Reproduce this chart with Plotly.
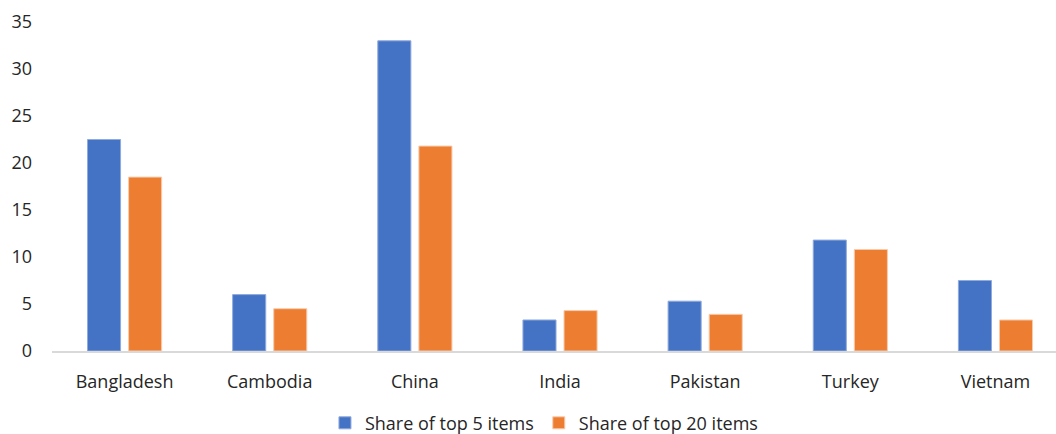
import plotly.graph_objects as go

countries = ["Bangladesh", "Cambodia", "China", "India", "Pakistan", "Turkey", "Vietnam"]
top5_share = [22.5, 6.0, 33.0, 3.3, 5.3, 11.8, 7.5]
top20_share = [18.5, 4.5, 21.8, 4.3, 3.9, 10.8, 3.3]

BLUE = "#4472C4"
ORANGE = "#ED7D31"
FONT = "Open Sans"
TEXT = "#262626"

fig = go.Figure()
fig.add_trace(go.Bar(
    x=countries, y=top5_share, name="Share of top 5 items",
    marker=dict(color=BLUE, line=dict(color="#8FAADC", width=1)),
))
fig.add_trace(go.Bar(
    x=countries, y=top20_share, name="Share of top 20 items",
    marker=dict(color=ORANGE, line=dict(color="#F8CBAD", width=1)),
))

fig.update_layout(
    width=1056, height=434,
    margin=dict(l=52, r=0, t=22, b=83, autoexpand=False),
    plot_bgcolor="white", paper_bgcolor="white",
    barmode="group", bargap=0.434, bargroupgap=0.195,
    font=dict(family=FONT, size=18, color=TEXT),
    showlegend=True,
    legend=dict(orientation="h", x=0.49, xanchor="center",
                y=-0.163, yanchor="top",
                font=dict(size=18, color=TEXT), itemwidth=30,
                traceorder="normal"),
    xaxis=dict(
        type="category", range=[-0.5, 6.417], automargin=False,
        showline=True, linecolor="#D9D9D9", linewidth=1.5,
        ticks="", showgrid=False, ticklabelstandoff=14,
    ),
    yaxis=dict(
        range=[0, 35], dtick=5, showgrid=False, zeroline=False, automargin=False,
        showline=False, ticks="", ticklabelstandoff=19,
    ),
)

fig.write_html("out.html")
